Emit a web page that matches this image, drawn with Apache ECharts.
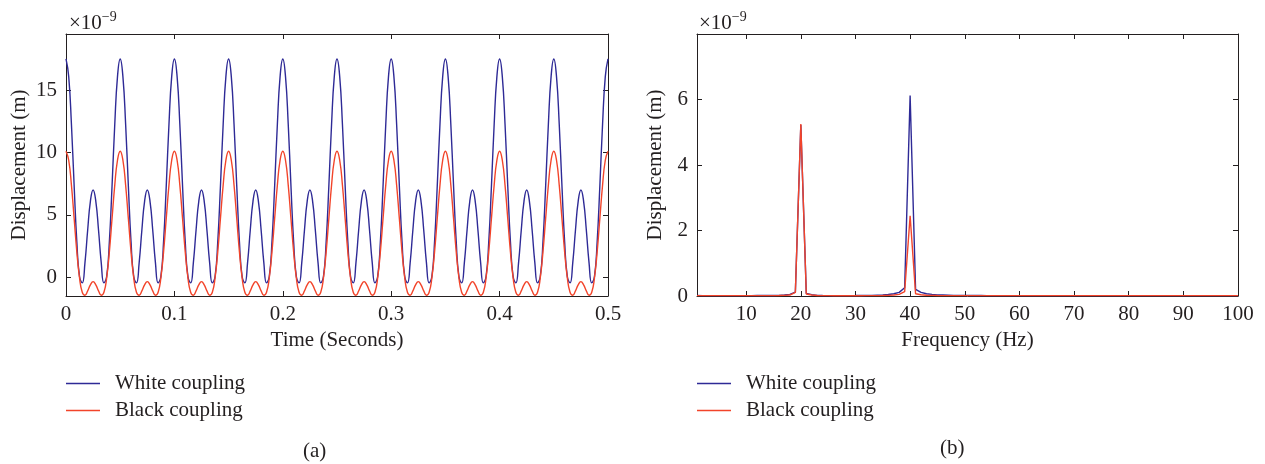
<!DOCTYPE html>
<html><head><meta charset="utf-8">
<script src="https://cdn.jsdelivr.net/npm/echarts@6/dist/echarts.min.js"></script>
<style>html,body{margin:0;padding:0;background:#fff}#c{width:1265px;height:464px}</style>
</head><body><div id="c"></div>
<script>
// ---------- (a) time domain ----------
const timeSec = [
0,0.0025,0.005,0.0075,0.01,0.0125,0.015,0.0175,0.02,0.0225,0.025,0.0275,0.03,0.0325,0.035,0.0375,0.04,0.0425,0.045,0.0475,
0.05,0.0525,0.055,0.0575,0.06,0.0625,0.065,0.0675,0.07,0.0725,0.075,0.0775,0.08,0.0825,0.085,0.0875,0.09,0.0925,0.095,0.0975,
0.1,0.1025,0.105,0.1075,0.11,0.1125,0.115,0.1175,0.12,0.1225,0.125,0.1275,0.13,0.1325,0.135,0.1375,0.14,0.1425,0.145,0.1475,
0.15,0.1525,0.155,0.1575,0.16,0.1625,0.165,0.1675,0.17,0.1725,0.175,0.1775,0.18,0.1825,0.185,0.1875,0.19,0.1925,0.195,0.1975,
0.2,0.2025,0.205,0.2075,0.21,0.2125,0.215,0.2175,0.22,0.2225,0.225,0.2275,0.23,0.2325,0.235,0.2375,0.24,0.2425,0.245,0.2475,
0.25,0.2525,0.255,0.2575,0.26,0.2625,0.265,0.2675,0.27,0.2725,0.275,0.2775,0.28,0.2825,0.285,0.2875,0.29,0.2925,0.295,0.2975,
0.3,0.3025,0.305,0.3075,0.31,0.3125,0.315,0.3175,0.32,0.3225,0.325,0.3275,0.33,0.3325,0.335,0.3375,0.34,0.3425,0.345,0.3475,
0.35,0.3525,0.355,0.3575,0.36,0.3625,0.365,0.3675,0.37,0.3725,0.375,0.3775,0.38,0.3825,0.385,0.3875,0.39,0.3925,0.395,0.3975,
0.4,0.4025,0.405,0.4075,0.41,0.4125,0.415,0.4175,0.42,0.4225,0.425,0.4275,0.43,0.4325,0.435,0.4375,0.44,0.4425,0.445,0.4475,
0.45,0.4525,0.455,0.4575,0.46,0.4625,0.465,0.4675,0.47,0.4725,0.475,0.4775,0.48,0.4825,0.485,0.4875,0.49,0.4925,0.495,0.4975,
0.5];
const whiteTime = [
17.5,16.08,12.28,7.35,2.84,0.05,-0.45,1.18,3.79,6.09,7.0,6.09,3.79,1.18,-0.45,0.05,2.84,7.35,12.28,16.08,
17.5,16.08,12.28,7.35,2.84,0.05,-0.45,1.18,3.79,6.09,7.0,6.09,3.79,1.18,-0.45,0.05,2.84,7.35,12.28,16.08,
17.5,16.08,12.28,7.35,2.84,0.05,-0.45,1.18,3.79,6.09,7.0,6.09,3.79,1.18,-0.45,0.05,2.84,7.35,12.28,16.08,
17.5,16.08,12.28,7.35,2.84,0.05,-0.45,1.18,3.79,6.09,7.0,6.09,3.79,1.18,-0.45,0.05,2.84,7.35,12.28,16.08,
17.5,16.08,12.28,7.35,2.84,0.05,-0.45,1.18,3.79,6.09,7.0,6.09,3.79,1.18,-0.45,0.05,2.84,7.35,12.28,16.08,
17.5,16.08,12.28,7.35,2.84,0.05,-0.45,1.18,3.79,6.09,7.0,6.09,3.79,1.18,-0.45,0.05,2.84,7.35,12.28,16.08,
17.5,16.08,12.28,7.35,2.84,0.05,-0.45,1.18,3.79,6.09,7.0,6.09,3.79,1.18,-0.45,0.05,2.84,7.35,12.28,16.08,
17.5,16.08,12.28,7.35,2.84,0.05,-0.45,1.18,3.79,6.09,7.0,6.09,3.79,1.18,-0.45,0.05,2.84,7.35,12.28,16.08,
17.5,16.08,12.28,7.35,2.84,0.05,-0.45,1.18,3.79,6.09,7.0,6.09,3.79,1.18,-0.45,0.05,2.84,7.35,12.28,16.08,
17.5,16.08,12.28,7.35,2.84,0.05,-0.45,1.18,3.79,6.09,7.0,6.09,3.79,1.18,-0.45,0.05,2.84,7.35,12.28,16.08,
17.5];
const blackTime = [
10.1,9.38,7.4,4.73,2.04,-0.05,-1.2,-1.44,-1.09,-0.61,-0.35,-0.61,-1.09,-1.44,-1.2,-0.05,2.04,4.73,7.4,9.38,
10.1,9.38,7.4,4.73,2.04,-0.05,-1.2,-1.44,-1.09,-0.61,-0.35,-0.61,-1.09,-1.44,-1.2,-0.05,2.04,4.73,7.4,9.38,
10.1,9.38,7.4,4.73,2.04,-0.05,-1.2,-1.44,-1.09,-0.61,-0.35,-0.61,-1.09,-1.44,-1.2,-0.05,2.04,4.73,7.4,9.38,
10.1,9.38,7.4,4.73,2.04,-0.05,-1.2,-1.44,-1.09,-0.61,-0.35,-0.61,-1.09,-1.44,-1.2,-0.05,2.04,4.73,7.4,9.38,
10.1,9.38,7.4,4.73,2.04,-0.05,-1.2,-1.44,-1.09,-0.61,-0.35,-0.61,-1.09,-1.44,-1.2,-0.05,2.04,4.73,7.4,9.38,
10.1,9.38,7.4,4.73,2.04,-0.05,-1.2,-1.44,-1.09,-0.61,-0.35,-0.61,-1.09,-1.44,-1.2,-0.05,2.04,4.73,7.4,9.38,
10.1,9.38,7.4,4.73,2.04,-0.05,-1.2,-1.44,-1.09,-0.61,-0.35,-0.61,-1.09,-1.44,-1.2,-0.05,2.04,4.73,7.4,9.38,
10.1,9.38,7.4,4.73,2.04,-0.05,-1.2,-1.44,-1.09,-0.61,-0.35,-0.61,-1.09,-1.44,-1.2,-0.05,2.04,4.73,7.4,9.38,
10.1,9.38,7.4,4.73,2.04,-0.05,-1.2,-1.44,-1.09,-0.61,-0.35,-0.61,-1.09,-1.44,-1.2,-0.05,2.04,4.73,7.4,9.38,
10.1,9.38,7.4,4.73,2.04,-0.05,-1.2,-1.44,-1.09,-0.61,-0.35,-0.61,-1.09,-1.44,-1.2,-0.05,2.04,4.73,7.4,9.38,
10.1];
const timeXTicks = [0,0.1,0.2,0.3,0.4,0.5];
const timeYTicks = [0,5,10,15];

// ---------- (b) frequency domain ----------
const freqHz = [
1,2,3,4,5,6,7,8,9,10,11,12,13,14,15,16,17,18,19,20,
21,22,23,24,25,26,27,28,29,30,31,32,33,34,35,36,37,38,39,40,
41,42,43,44,45,46,47,48,49,50,51,52,53,54,55,56,57,58,59,60,
61,62,63,64,65,66,67,68,69,70,71,72,73,74,75,76,77,78,79,80,
81,82,83,84,85,86,87,88,89,90,91,92,93,94,95,96,97,98,99,100];
const whiteSpec = [
0.02,0.01,0.01,0.01,0.01,0.01,0.01,0.01,0.01,0.012,0.012,0.013,0.014,0.015,0.017,0.02,0.03,0.05,0.12,5.22,
0.08,0.04,0.02,0.015,0.012,0.01,0.01,0.01,0.012,0.013,0.015,0.017,0.02,0.025,0.03,0.045,0.07,0.11,0.25,6.12,
0.2,0.11,0.07,0.05,0.035,0.03,0.025,0.02,0.018,0.016,0.015,0.014,0.013,0.012,0.012,0.011,0.011,0.01,0.01,0.01,
0.01,0.01,0.01,0.01,0.01,0.01,0.01,0.01,0.01,0.01,0.01,0.01,0.01,0.01,0.01,0.01,0.01,0.01,0.01,0.01,
0.01,0.01,0.01,0.01,0.01,0.01,0.01,0.01,0.01,0.01,0.01,0.01,0.01,0.01,0.01,0.01,0.01,0.01,0.01,0.01];
const blackSpec = [
0.01,0.01,0.01,0.01,0.01,0.01,0.01,0.01,0.01,0.01,0.01,0.01,0.01,0.01,0.012,0.014,0.018,0.03,0.11,5.25,
0.06,0.03,0.015,0.01,0.01,0.008,0.008,0.008,0.008,0.008,0.008,0.01,0.01,0.012,0.015,0.02,0.03,0.05,0.13,2.45,
0.07,0.04,0.025,0.018,0.014,0.012,0.01,0.01,0.01,0.01,0.01,0.01,0.01,0.01,0.01,0.01,0.01,0.01,0.01,0.01,
0.01,0.01,0.01,0.01,0.01,0.01,0.01,0.01,0.01,0.01,0.01,0.01,0.01,0.01,0.01,0.01,0.01,0.01,0.01,0.01,
0.01,0.01,0.01,0.01,0.01,0.01,0.01,0.01,0.01,0.01,0.01,0.01,0.01,0.01,0.01,0.01,0.01,0.01,0.01,0.01];
const freqXTicks = [10,20,30,40,50,60,70,80,90,100];
const freqYTicks = [0,2,4,6];

const seriesNames = ['White coupling','Black coupling'];
const colors = ['#2e2a96','#f2442a'];

// ---------- chart ----------
const FONT = 'Liberation Serif';
const INK = '#231f20';
const FS = 21;

function pairs(xs, ys){ return xs.map((x,i)=>[x, ys[i]]); }

function axisPair(gridIndex, min, max, ticks, isX, name, nameGap){
  const common = {
    type:'value', gridIndex, min, max, scale:false,
    splitLine:{show:false},
    axisLine:{show:true, onZero:false, lineStyle:{color:INK, width:1}},
    axisTick:{show:true, inside:true, length:5, customValues:ticks, lineStyle:{color:INK, width:1}}
  };
  const main = Object.assign({}, common, {
    position: isX ? 'bottom' : 'left',
    axisLabel:{show:true, customValues:ticks, color:INK, fontFamily:FONT, fontSize:FS, margin:isX?8:9,
      showMinLabel:true, showMaxLabel:true},
    name, nameLocation:'middle', nameGap,
    nameTextStyle:{color:INK, fontFamily:FONT, fontSize:FS}
  });
  const mirror = Object.assign({}, common, {
    position: isX ? 'top' : 'right',
    axisLabel:{show:false}
  });
  return [main, mirror];
}

const [xa0, xa1] = axisPair(0, 0, 0.5, timeXTicks, true, 'Time (Seconds)', 33);
const [ya0, ya1] = axisPair(0, -1.5, 19.5, timeYTicks, false, 'Displacement (m)', 36);
const [xb0, xb1] = axisPair(1, 1, 100, freqXTicks, true, 'Frequency (Hz)', 33);
const [yb0, yb1] = axisPair(1, 0, 8, freqYTicks, false, 'Displacement (m)', 31);

const legendBase = {
  orient:'vertical', icon:'rect', itemWidth:34, itemHeight:1.5, itemGap:6,
  selectedMode:false, padding:0,
  textStyle:{color:INK, fontFamily:FONT, fontSize:FS, padding:[0,0,0,10]},
  data: seriesNames
};

const expTitle = (left) => ({
  text:'{a|×10}{b|−9}', left, top:5,
  textStyle:{rich:{
    a:{fontFamily:FONT, fontSize:FS, fontWeight:'normal', color:INK, verticalAlign:'bottom', lineHeight:24},
    b:{fontFamily:FONT, fontSize:14, fontWeight:'normal', color:INK, verticalAlign:'top', lineHeight:24, padding:[0,0,9,0]}
  }}
});

const chart = echarts.init(document.getElementById('c'), null, {renderer:'canvas'});
chart.setOption({
  backgroundColor:'#fff',
  animation:false,
  title:[
    expTitle(64),
    expTitle(694),
    {text:'(a)', left:298, top:436, textStyle:{fontFamily:FONT, fontSize:FS, fontWeight:'normal', color:INK}},
    {text:'(b)', left:935, top:433, textStyle:{fontFamily:FONT, fontSize:FS, fontWeight:'normal', color:INK}}
  ],
  grid:[
    {left:66, right:657, top:34, bottom:168},
    {left:697, right:27, top:34, bottom:168}
  ],
  legend:[
    Object.assign({left:66, top:373}, legendBase),
    Object.assign({left:697, top:373}, legendBase)
  ],
  xAxis:[xa0, xa1, xb0, xb1],
  yAxis:[ya0, ya1, yb0, yb1],
  series:[
    {name:seriesNames[0], type:'line', xAxisIndex:0, yAxisIndex:0, data:pairs(timeSec, whiteTime),
      smooth:0.5, symbol:'none', color:colors[0], lineStyle:{color:colors[0], width:1.4}},
    {name:seriesNames[1], type:'line', xAxisIndex:0, yAxisIndex:0, data:pairs(timeSec, blackTime),
      smooth:0.5, symbol:'none', color:colors[1], lineStyle:{color:colors[1], width:1.4}},
    {name:seriesNames[0], type:'line', xAxisIndex:2, yAxisIndex:2, data:pairs(freqHz, whiteSpec),
      symbol:'none', color:colors[0], lineStyle:{color:colors[0], width:1.4}},
    {name:seriesNames[1], type:'line', xAxisIndex:2, yAxisIndex:2, data:pairs(freqHz, blackSpec),
      symbol:'none', color:colors[1], lineStyle:{color:colors[1], width:1.4}}
  ]
});
</script></body></html>
